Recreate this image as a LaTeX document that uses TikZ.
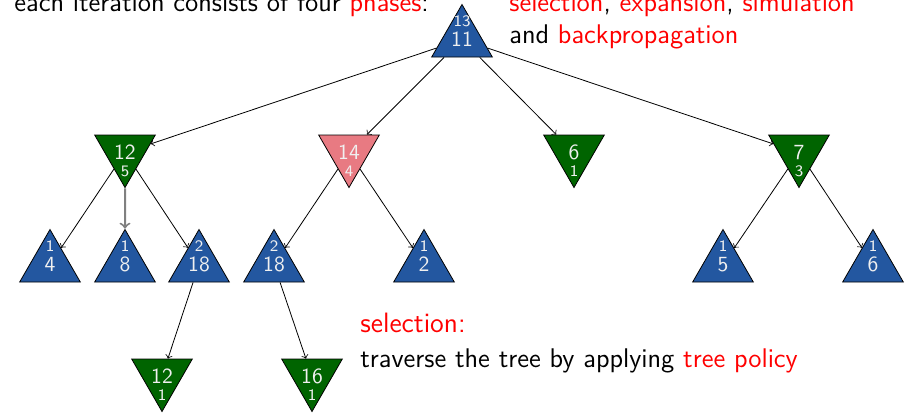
\documentclass[tikz,border=0pt]{standalone}
\usepackage{tikz}
\usetikzlibrary{shapes.geometric,arrows}
\renewcommand{\familydefault}{\sfdefault}
\definecolor{maxblue}{RGB}{35,87,160}
\definecolor{mingreen}{RGB}{0,100,0}
\definecolor{selpink}{RGB}{232,122,130}
\definecolor{numwhite}{RGB}{240,240,240}
\newcommand{\hl}[1]{\textcolor{red}{#1}}

\begin{document}
\begin{tikzpicture}[x=0.5pt,y=-0.5pt,
    tri/.style={regular polygon,regular polygon sides=3,minimum size=35pt,
      inner sep=0pt,draw=black,text=numwhite,font=\fontsize{10.8}{12}\selectfont},
    maxnode/.style={tri,fill=maxblue,
      label={[text=numwhite,font=\fontsize{8}{9}\selectfont,yshift=9.25pt]center:#1}},
    minnode/.style={tri,shape border rotate=180,fill=mingreen,
      label={[text=numwhite,font=\fontsize{8}{9}\selectfont,yshift=-9.25pt]center:#1}},
    txt/.style={anchor=base west,inner sep=0pt,font=\fontsize{13.5}{16}\selectfont}]
    \useasboundingbox (0,0) rectangle (912,414);

    % text
    \node[txt] (intro) at (14,11) {each iteration consists of four \hl{phases}:};
    \node[txt] (phases) at (509,11) {\hl{selection}, \hl{expansion}, \hl{simulation}};
    \node[txt] (phases2) at (509,43) {and \hl{backpropagation}};
    \node[txt,font=\fontsize{14}{16}\selectfont,text=red] (title) at (360,332) {selection:};
    \node[txt] (desc) at (360,367) {traverse the tree by applying \hl{tree policy}};

    % tree
    \node[maxnode=13] (root) at (462,39.5) {11};
    \node[minnode=5] (n12) at (125,152.5) {12};
    \node[minnode=4,fill=selpink] (n14) at (349,152.5) {14};
    \node[minnode=1] (n6) at (574,152.5) {6};
    \node[minnode=3] (n7) at (799,152.5) {7};
    \node[maxnode=1] (a4) at (50,264.5) {4};
    \node[maxnode=1] (a8) at (125,264.5) {8};
    \node[maxnode=2] (a18) at (199,264.5) {18};
    \node[maxnode=2] (b18) at (274,264.5) {18};
    \node[maxnode=1] (a2) at (424,264.5) {2};
    \node[maxnode=1] (a5) at (723,264.5) {5};
    \node[maxnode=1] (a6) at (873,264.5) {6};
    \node[minnode=1] (c12) at (162,376.5) {12};
    \node[minnode=1] (c16) at (312,376.5) {16};

    \path[->]
    (root) edge (n12) edge (n14) edge (n6) edge (n7);
    \path[->]
    (n12) edge (a4) edge[gray,line width=1pt] (a8) edge (a18)
    (n14) edge (b18) edge (a2)
    (n7) edge (a5) edge (a6);
    \path[->]
    (a18) edge (c12)
    (b18) edge (c16);
  \end{tikzpicture}
\end{document}
